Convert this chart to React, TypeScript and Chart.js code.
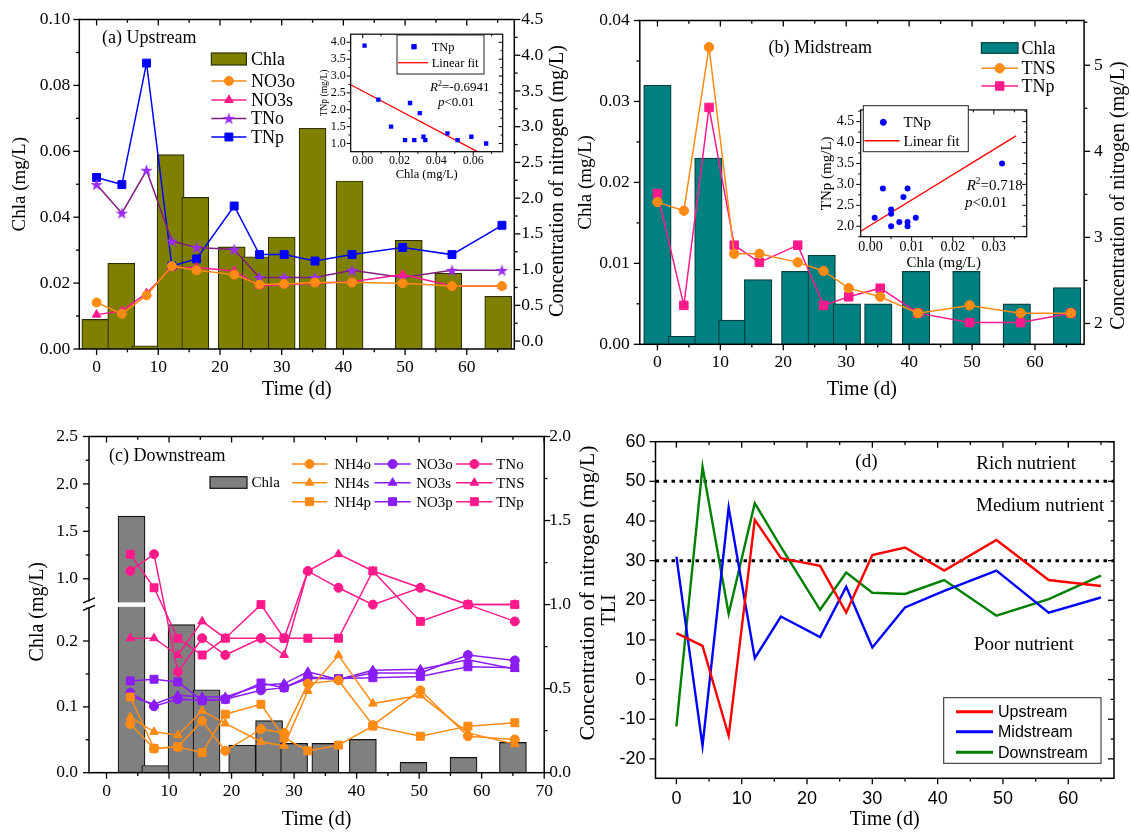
import React, { useEffect, useRef } from 'react';
import { Chart, registerables } from 'chart.js';
import { drawPoint } from 'chart.js/helpers';

Chart.register(...registerables);
Chart.defaults.color = '#000';

const SERIF = "'Liberation Serif', 'Times New Roman', serif";
const SANS = "'Liberation Sans', Arial, sans-serif";

// ---------------- (a) Upstream ----------------
const upLineDays = [0, 4.1, 8.1, 12.2, 16.2, 22.3, 26.4, 30.4, 35.4, 41.4, 49.6, 57.6, 65.7];
const upBarDays = [-0.2, 4, 7.9, 12, 16, 21.9, 25.8, 30, 35, 41, 50.6, 57, 65.1];
const upChla = [0.009, 0.026, 0.001, 0.059, 0.046, 0.031, 0.028, 0.034, 0.067, 0.051, 0.033, 0.023, 0.016];
const upNO3o = [0.54, 0.38, 0.64, 1.05, 0.99, 0.93, 0.79, 0.8, 0.82, 0.82, 0.81, 0.77, 0.77];
const upNO3s = [0.37, 0.42, 0.67, 1.03, 1.03, 0.98, 0.77, 0.79, 0.81, 0.83, 0.93, 0.77, 0.77];
const upTNo = [2.19, 1.79, 2.39, 1.4, 1.31, 1.28, 0.89, 0.89, 0.89, 0.99, 0.89, 0.99, 0.99];
const upTNp = [2.29, 2.19, 3.89, 1.05, 1.15, 1.89, 1.21, 1.21, 1.12, 1.21, 1.31, 1.21, 1.62];
const upInsetChla = [0.001, 0.0085, 0.0154, 0.023, 0.0257, 0.028, 0.031, 0.033, 0.034, 0.046, 0.0515, 0.059, 0.067];
const upInsetTNp = [3.9, 2.3, 1.5, 1.1, 2.2, 1.1, 1.9, 1.2, 1.1, 1.3, 1.1, 1.2, 1.0];
const upFitChla = [-0.0065, 0.0625];
const upFitTNp = [2.74, 0.75];

// ---------------- (b) Midstream ----------------
const midLineDays = [0, 4.2, 8.2, 12.2, 16.2, 22.3, 26.4, 30.4, 35.4, 41.4, 49.6, 57.7, 65.7];
const midBarDays = [0, 3.9, 8.1, 11.9, 16, 21.9, 26.1, 30.1, 35.1, 41.1, 49.1, 57.1, 65.1];
const midChla = [0.032, 0.001, 0.023, 0.003, 0.008, 0.009, 0.011, 0.005, 0.005, 0.009, 0.009, 0.005, 0.007];
const midTNS = [3.41, 3.31, 5.21, 2.81, 2.81, 2.71, 2.61, 2.41, 2.31, 2.12, 2.21, 2.12, 2.12];
const midTNp = [3.51, 2.21, 4.51, 2.91, 2.71, 2.91, 2.21, 2.31, 2.41, 2.12, 2.01, 2.01, 2.12];
const midInsetChla = [0.001, 0.003, 0.005, 0.005, 0.005, 0.007, 0.008, 0.009, 0.009, 0.009, 0.011, 0.032];
const midInsetTNp = [2.2, 2.9, 2.0, 2.4, 2.3, 2.1, 2.7, 2.9, 2.1, 2.0, 2.2, 3.5];
const midFitChla = [-0.0024, 0.0354];
const midFitTNp = [1.88, 4.16];

// ---------------- (c) Downstream ----------------
const downBarDays = [-0.2, 4, 7.8, 12, 16, 21.7, 26, 30, 35, 41, 49.1, 57.1, 65];
const downChla = [0.001, 1.66, 0.011, 0.225, 0.126, 0.042, 0.079, 0.0445, 0.0445, 0.0506, 0.0157, 0.0233, 0.046];
const downLineDays = [3.8, 7.6, 11.4, 15.3, 19.0, 24.7, 28.4, 32.2, 37.1, 42.6, 50.2, 57.8, 65.3];
const downNH4o = [0.29, 0.144, 0.154, 0.308, 0.13, 0.259, 0.237, 0.53, 0.55, 0.283, 0.49, 0.217, 0.198];
const downNH4s = [0.33, 0.243, 0.223, 0.368, 0.293, 0.184, 0.16, 0.486, 0.698, 0.411, 0.46, 0.237, 0.17];
const downNH4p = [0.45, 0.144, 0.154, 0.119, 0.348, 0.407, 0.21, 0.13, 0.164, 0.277, 0.217, 0.277, 0.297];
const downNO3o = [0.476, 0.395, 0.437, 0.43, 0.437, 0.49, 0.506, 0.57, 0.554, 0.593, 0.593, 0.7, 0.668];
const downNO3s = [0.455, 0.407, 0.46, 0.45, 0.45, 0.52, 0.53, 0.6, 0.554, 0.61, 0.615, 0.672, 0.617];
const downNO3p = [0.546, 0.556, 0.54, 0.43, 0.437, 0.534, 0.506, 0.56, 0.56, 0.565, 0.573, 0.63, 0.625];
const downTNo = [1.2, 1.3, 0.6, 0.8, 0.7, 0.8, 0.8, 1.2, 1.1, 1.0, 1.1, 1.0, 0.9];
const downTNS = [0.8, 0.8, 0.7, 0.9, 0.8, 0.8, 0.7, 1.2, 1.3, 1.2, 1.1, 1.0, 1.0];
const downTNp = [1.3, 1.1, 0.8, 0.7, 0.8, 1.0, 0.8, 0.8, 0.8, 1.2, 0.9, 1.0, 1.0];
const chlaBreakLow = 0.252;
const chlaBreakHigh = 0.75;

// ---------------- (d) TLI ----------------
const tliDays = [0, 4, 8, 12, 16, 22, 26, 30, 35, 41, 49, 57, 65];
const tliUp = [11.7, 8.5, -14.2, 40.3, 30.6, 28.7, 16.9, 31.4, 33.3, 27.5, 35.2, 25.1, 23.6];
const tliMid = [31.0, -16.7, 43.4, 5.4, 15.9, 10.7, 23.4, 8.1, 18.2, 22.4, 27.5, 16.9, 20.7];
const tliDown = [-11.8, 53.7, 16.6, 44.5, 33.5, 17.6, 27.0, 21.9, 21.6, 25.1, 16.1, 20.3, 26.2];
const tliBoundaryX = [-3.2, 67];
const tliRich = [50, 50];
const tliMedium = [30, 30];

// ---------------- tick labels ----------------
const xTicksMain = [0, 10, 20, 30, 40, 50, 60];
const xTicksDown = [0, 10, 20, 30, 40, 50, 60, 70];
const yTicksUpChla = [0, 0.02, 0.04, 0.06, 0.08, 0.1];
const yTicksUpN = [0, 0.5, 1, 1.5, 2, 2.5, 3, 3.5, 4, 4.5];
const yTicksMidChla = [0, 0.01, 0.02, 0.03, 0.04];
const yTicksMidN = [2, 3, 4, 5];
const yTicksDownHigh = [1, 1.5, 2, 2.5];
const yTicksDownLow = [0, 0.1, 0.2];
const yTicksDownN = [0, 0.5, 1, 1.5, 2];
const yTicksTLI = [-20, -10, 0, 10, 20, 30, 40, 50, 60];
const insetUpXTicks = [0, 0.02, 0.04, 0.06];
const insetUpYTicks = [1, 1.5, 2, 2.5, 3, 3.5, 4];
const insetMidXTicks = [0, 0.01, 0.02, 0.03];
const insetMidYTicks = [2, 2.5, 3, 3.5, 4, 4.5];

// ---------------- colours ----------------
const ORANGE = '#FF8A14';
const PINK = '#FF1A8C';
const BLUE = '#0000FF';
const VIOLET = '#8A1CF5';
const OLIVE = '#808000';
const TEAL = '#008080';
const GREY = '#808080';

const NITROGEN_TITLE = 'Concentration of nitrogen (mg/L)';

const pts = (xs: number[], ys: any[]) => xs.map((x, i) => ({ x, y: ys[i] }));

function makeStar(size: number, fill: string) {
  const c = document.createElement('canvas');
  c.width = size; c.height = size;
  const g = c.getContext('2d')!;
  g.fillStyle = fill;
  g.beginPath();
  for (let i = 0; i < 10; i++) {
    const r = i % 2 ? size * 0.2 : size * 0.5;
    const a = -Math.PI / 2 + (i * Math.PI) / 5;
    g.lineTo(size / 2 + r * Math.cos(a), size / 2 + 0.5 + r * Math.sin(a));
  }
  g.closePath();
  g.fill();
  return c;
}

function mkScale(p: any) {
  const s: any = {
    type: 'linear',
    position: p.position,
    min: p.min,
    max: p.max,
    offset: false,
    grid: { display: false, drawTicks: false },
    border: { display: false },
    ticks: {
      font: { family: p.family || SERIF, size: p.size || 17.5 },
      color: '#000',
      padding: p.pad ?? 8,
      autoSkip: false,
      maxRotation: 0,
      minRotation: 0,
      callback: (v: number) => p.fmt(v),
    },
    afterBuildTicks: (sc: any) => {
      sc.ticks = p.ticks.map((v: number) => ({ value: v }));
    },
    afterFit: (sc: any) => {
      if (p.position === 'bottom' || p.position === 'top') sc.height = p.fit;
      else sc.width = p.fit;
    },
    title: p.title
      ? { display: true, text: p.title, color: '#000', font: { family: p.titleFamily || SERIF, size: p.titleSize || 20 }, padding: p.titlePad }
      : { display: false },
  };
  if (p.stack) { s.stack = p.stack; s.stackWeight = p.weight; }
  return s;
}

function framePlugin(o: any) {
  return {
    id: 'frame',
    afterDraw(chart: any) {
      const { ctx, chartArea: ca } = chart;
      ctx.save();
      ctx.strokeStyle = '#000';
      ctx.lineWidth = o.lw || 1.5;
      ctx.strokeRect(ca.left, ca.top, ca.right - ca.left, ca.bottom - ca.top);
      ctx.lineWidth = o.tw || 1.3;
      const L = o.len || 6;
      for (const a of o.sides) {
        const s = chart.scales[a.id];
        const major: number[] = s.ticks.map((t: any) => t.value);
        const vals: [number, number][] = major.map((v) => [v, L]);
        if (a.minor && major.length > 1) {
          const step = major[1] - major[0];
          for (let i = -1; i < major.length; i++) {
            const base = i < 0 ? major[0] - step : major[i];
            for (let k = 1; k <= a.minor; k++) vals.push([base + (step * k) / (a.minor + 1), L * 0.55]);
          }
        }
        for (const [v, len] of vals) {
          if (v < s.min - 1e-9 || v > s.max + 1e-9) continue;
          const p = s.getPixelForValue(v);
          const d = a.out ? len : -len;
          ctx.beginPath();
          if (a.side === 'bottom') { ctx.moveTo(p, ca.bottom); ctx.lineTo(p, ca.bottom + d); }
          else if (a.side === 'top') { ctx.moveTo(p, ca.top); ctx.lineTo(p, ca.top - d); }
          else if (a.side === 'left') { ctx.moveTo(ca.left, p); ctx.lineTo(ca.left - d, p); }
          else { ctx.moveTo(ca.right, p); ctx.lineTo(ca.right + d, p); }
          ctx.stroke();
        }
      }
      if (o.breakScale) {
        const j = chart.scales[o.breakScale].top;
        const X = ca.left;
        ctx.fillStyle = '#fff';
        ctx.fillRect(X - 3, j - 3, 6, 6);
        ctx.lineWidth = 1.4;
        ctx.beginPath();
        ctx.moveTo(X - 6, j - 1.5); ctx.lineTo(X + 6, j - 6.5);
        ctx.moveTo(X - 6, j + 6); ctx.lineTo(X + 6, j + 1);
        ctx.stroke();
      }
      ctx.restore();
    },
  };
}

function legendPlugin(o: any) {
  return {
    id: 'legendX',
    afterDraw(chart: any) {
      const ctx = chart.ctx;
      ctx.save();
      if (o.box) {
        ctx.fillStyle = '#fff';
        ctx.fillRect(o.box.x, o.box.y, o.box.w, o.box.h);
        ctx.strokeStyle = '#222';
        ctx.lineWidth = 1;
        ctx.strokeRect(o.box.x, o.box.y, o.box.w, o.box.h);
      }
      for (const it of o.items) {
        const ds = chart.data.datasets[it.ds];
        if (it.kind === 'box') {
          ctx.fillStyle = ds.backgroundColor;
          ctx.fillRect(it.x, it.y - it.h / 2, it.w, it.h);
          ctx.strokeStyle = ds.borderColor;
          ctx.lineWidth = 1.2;
          ctx.strokeRect(it.x, it.y - it.h / 2, it.w, it.h);
        } else {
          if (it.kind !== 'marker') {
            ctx.strokeStyle = ds.borderColor;
            ctx.lineWidth = it.lw || ds.borderWidth || 1.5;
            ctx.beginPath();
            ctx.moveTo(it.x, it.y);
            ctx.lineTo(it.x + it.w, it.y);
            ctx.stroke();
          }
          if (ds.pointRadius > 0) {
            ctx.fillStyle = ds.pointBackgroundColor || ds.backgroundColor;
            ctx.strokeStyle = ds.pointBorderColor || ds.borderColor;
            ctx.lineWidth = 1;
            const cx = it.kind === 'marker' ? it.x : it.x + it.w / 2;
            drawPoint(ctx, { pointStyle: ds.pointStyle, radius: ds.pointRadius, borderWidth: 1, rotation: 0 } as any, cx, it.y);
          }
        }
        ctx.fillStyle = '#000';
        ctx.font = `${o.size}px ${o.family || SERIF}`;
        ctx.textBaseline = 'middle';
        ctx.textAlign = 'left';
        ctx.fillText(ds.label, it.tx, it.y + 1);
      }
      ctx.restore();
    },
  };
}

function textPlugin(items: any[]) {
  return {
    id: 'texts',
    afterDraw(chart: any) {
      const ctx = chart.ctx;
      for (const t of items) {
        ctx.save();
        ctx.translate(t.x, t.y);
        if (t.rot) ctx.rotate(t.rot);
        ctx.fillStyle = '#000';
        ctx.textBaseline = 'middle';
        ctx.textAlign = 'left';
        const fam = t.family || SERIF;
        const font = (p: any) => `${p.i ? 'italic ' : ''}${p.sup ? t.size * 0.62 : t.size}px ${fam}`;
        let total = 0;
        for (const p of t.parts) { ctx.font = font(p); total += ctx.measureText(p.t).width; }
        let x = t.align === 'center' ? -total / 2 : 0;
        for (const p of t.parts) {
          ctx.font = font(p);
          ctx.fillText(p.t, x, p.sup ? -t.size * 0.32 : 0);
          x += ctx.measureText(p.t).width;
        }
        ctx.restore();
      }
    },
  };
}

const common: any = {
  animation: false,
  responsive: false,
  maintainAspectRatio: false,
  devicePixelRatio: 1,
  events: [],
  plugins: { legend: { display: false }, tooltip: { enabled: false } },
};

function lineDs(label: string, xs: number[], ys: number[], color: string, style: any, r: number, extra: any = {}) {
  return {
    type: 'line', label, data: pts(xs, ys),
    borderColor: color, backgroundColor: color,
    pointBackgroundColor: color, pointBorderColor: color,
    pointStyle: style, pointRadius: r, pointBorderWidth: 1,
    borderWidth: 1.5, yAxisID: 'y1', order: 1, ...extra,
  };
}

const mainSides = [
  { id: 'x', side: 'bottom', out: true, minor: 1 },
  { id: 'x', side: 'top', out: false, minor: 1 },
  { id: 'y', side: 'left', out: true, minor: 1 },
  { id: 'y1', side: 'right', out: true, minor: 1 },
];
const insetSides = [
  { id: 'x', side: 'bottom', out: true, minor: 1 },
  { id: 'x', side: 'top', out: false, minor: 1 },
  { id: 'y', side: 'left', out: true, minor: 1 },
  { id: 'y', side: 'right', out: false, minor: 1 },
];

const f2 = (v: number) => v.toFixed(2);
const f1 = (v: number) => v.toFixed(1);
const f0 = (v: number) => String(Math.round(v));
const UP = -Math.PI / 2;

function buildA() {
  const star = makeStar(13, '#9B2CF2');
  return {
    type: 'bar',
    data: {
      datasets: [
        { type: 'bar', label: 'Chla', data: pts(upBarDays, upChla), yAxisID: 'y', backgroundColor: OLIVE, borderColor: '#2e2e00', borderWidth: 1.2, barThickness: 27, grouped: false, order: 2 },
        lineDs('NO3o', upLineDays, upNO3o, ORANGE, 'circle', 4.5),
        lineDs('NO3s', upLineDays, upNO3s, PINK, 'triangle', 5),
        lineDs('TNo', upLineDays, upTNo, '#7E1E80', star, 6),
        lineDs('TNp', upLineDays, upTNp, BLUE, 'rect', 5.6),
      ],
    },
    options: {
      ...common,
      layout: { padding: { top: 16.7, left: 0, right: 0, bottom: 0 } },
      scales: {
        x: mkScale({ position: 'bottom', min: -2.8, max: 67.7, ticks: xTicksMain, fmt: f0, fit: 61, pad: 8, title: 'Time (d)', titlePad: { top: 0, bottom: 8 }, titleSize: 20 }),
        y: mkScale({ position: 'left', min: 0, max: 0.1, ticks: yTicksUpChla, fmt: f2, fit: 79.3, pad: 9, title: 'Chla (mg/L)', titlePad: { top: 9, bottom: 0 }, titleSize: 19 }),
        y1: mkScale({ position: 'right', min: -0.111, max: 4.5, ticks: yTicksUpN, fmt: f1, fit: 55.7, pad: 7 }),
      },
    },
    plugins: [
      framePlugin({ sides: mainSides }),
      legendPlugin({
        size: 18,
        items: [
          { ds: 0, kind: 'box', x: 211.4, y: 59, w: 35, h: 12, tx: 251 },
          { ds: 1, kind: 'line', x: 211.4, y: 81, w: 35, tx: 251 },
          { ds: 2, kind: 'line', x: 211.4, y: 100, w: 35, tx: 251 },
          { ds: 3, kind: 'line', x: 211.4, y: 118.5, w: 35, tx: 251 },
          { ds: 4, kind: 'line', x: 211.4, y: 137, w: 35, tx: 251 },
        ],
      }),
      textPlugin([
        { x: 102, y: 38, size: 18, parts: [{ t: '(a) Upstream' }] },
        { x: 557.3, y: 181, size: 20.3, rot: UP, align: 'center', parts: [{ t: NITROGEN_TITLE }] },
      ]),
    ],
  };
}

function buildInsetA() {
  return {
    type: 'scatter',
    data: {
      datasets: [
        { type: 'scatter', label: 'TNp', data: pts(upInsetChla, upInsetTNp), pointStyle: 'rect', pointRadius: 3.1, backgroundColor: BLUE, borderColor: BLUE, pointBackgroundColor: BLUE, pointBorderColor: BLUE, pointBorderWidth: 0 },
        { type: 'line', label: 'Linear fit', data: pts(upFitChla, upFitTNp), borderColor: '#FF0000', borderWidth: 1.3, pointRadius: 0 },
      ],
    },
    options: {
      ...common,
      layout: { padding: { top: 9.7, right: 4.3, left: 0, bottom: 0 } },
      scales: {
        x: mkScale({ position: 'bottom', min: -0.0065, max: 0.076, ticks: insetUpXTicks, fmt: f2, fit: 32.3, pad: 2, size: 12, title: 'Chla (mg/L)', titleSize: 12.5, titlePad: { top: 0, bottom: 1.5 } }),
        y: mkScale({ position: 'left', min: 0.756, max: 4.24, ticks: insetUpYTicks, fmt: f1, fit: 35.7, pad: 5, size: 12, title: 'TNp (mg/L)', titleSize: 9.5, titlePad: { top: 4, bottom: 0 } }),
      },
    },
    plugins: [
      framePlugin({ sides: insetSides, len: 4, lw: 1.2, tw: 1 }),
      legendPlugin({
        size: 12.5,
        box: { x: 82, y: 13, w: 87, h: 39 },
        items: [
          { ds: 0, kind: 'marker', x: 99, y: 24.7, tx: 116.7 },
          { ds: 1, kind: 'line', x: 83, y: 40.7, w: 30, tx: 116.7 },
        ],
      }),
      textPlugin([
        { x: 115, y: 66, size: 13, parts: [{ t: 'R', i: true }, { t: '2', sup: true }, { t: '=-0.6941' }] },
        { x: 123, y: 81, size: 13, parts: [{ t: 'p', i: true }, { t: '<0.01' }] },
      ]),
    ],
  };
}

function buildB() {
  return {
    type: 'bar',
    data: {
      datasets: [
        { type: 'bar', label: 'Chla', data: pts(midBarDays, midChla), yAxisID: 'y', backgroundColor: TEAL, borderColor: '#023c3c', borderWidth: 1.2, barThickness: 27.5, grouped: false, order: 2 },
        lineDs('TNS', midLineDays, midTNS, ORANGE, 'circle', 4.7),
        lineDs('TNp', midLineDays, midTNp, PINK, 'rect', 6),
      ],
    },
    options: {
      ...common,
      layout: { padding: { top: 17.3, left: 0, right: 0, bottom: 0 } },
      scales: {
        x: mkScale({ position: 'bottom', min: -2.8, max: 67.8, ticks: xTicksMain, fmt: f0, fit: 65.7, pad: 8, title: 'Time (d)', titlePad: { top: 0, bottom: 8 }, titleSize: 20 }),
        y: mkScale({ position: 'left', min: 0, max: 0.04, ticks: yTicksMidChla, fmt: f2, fit: 74.8, pad: 10, title: 'Chla (mg/L)', titlePad: { top: 9.6, bottom: 0 }, titleSize: 19 }),
        y1: mkScale({ position: 'right', min: 1.758, max: 5.52, ticks: yTicksMidN, fmt: f0, fit: 46.9, pad: 10 }),
      },
    },
    plugins: [
      framePlugin({ sides: mainSides }),
      legendPlugin({
        size: 18,
        items: [
          { ds: 0, kind: 'box', x: 416.4, y: 48, w: 36.6, h: 10.6, tx: 456.5 },
          { ds: 1, kind: 'line', x: 416.4, y: 68.3, w: 36.6, tx: 456.5 },
          { ds: 2, kind: 'line', x: 416.4, y: 86, w: 36.6, tx: 456.5 },
        ],
      }),
      textPlugin([
        { x: 203.6, y: 48.3, size: 18, parts: [{ t: '(b) Midstream' }] },
        { x: 553.3, y: 195.5, size: 20, rot: UP, align: 'center', parts: [{ t: NITROGEN_TITLE }] },
      ]),
    ],
  };
}

function buildInsetB() {
  return {
    type: 'scatter',
    data: {
      datasets: [
        { type: 'scatter', label: 'TNp', data: pts(midInsetChla, midInsetTNp), pointStyle: 'circle', pointRadius: 3, backgroundColor: BLUE, borderColor: BLUE, pointBackgroundColor: BLUE, pointBorderColor: BLUE, pointBorderWidth: 0 },
        { type: 'line', label: 'Linear fit', data: pts(midFitChla, midFitTNp), borderColor: '#FF0000', borderWidth: 1.4, pointRadius: 0 },
      ],
    },
    options: {
      ...common,
      layout: { padding: { top: 8.3, right: 8.3, left: 0, bottom: 0 } },
      scales: {
        x: mkScale({ position: 'bottom', min: -0.0024, max: 0.038, ticks: insetMidXTicks, fmt: f2, fit: 38.3, pad: 2, size: 14, title: 'Chla (mg/L)', titleSize: 15, titlePad: { top: 0, bottom: 3 } }),
        y: mkScale({ position: 'left', min: 1.75, max: 4.78, ticks: insetMidYTicks, fmt: f1, fit: 45.7, pad: 6.5, size: 14, title: 'TNp (mg/L)', titleSize: 15, titlePad: { top: 3.5, bottom: 0 } }),
      },
    },
    plugins: [
      framePlugin({ sides: insetSides, len: 4.5, lw: 1.2, tw: 1 }),
      legendPlugin({
        size: 15,
        box: { x: 48.3, y: 10.7, w: 105, h: 46 },
        items: [
          { ds: 0, kind: 'marker', x: 68.3, y: 27.3, tx: 88.5 },
          { ds: 1, kind: 'line', x: 49.5, y: 45.7, w: 35, tx: 88.5 },
        ],
      }),
      textPlugin([
        { x: 151.7, y: 91, size: 15, parts: [{ t: 'R', i: true }, { t: '2', sup: true }, { t: '=0.718' }] },
        { x: 150, y: 108.3, size: 15, parts: [{ t: 'p', i: true }, { t: '<0.01' }] },
      ]),
    ],
  };
}

function buildC() {
  const lowData = downChla.map((v, i) => ({ x: downBarDays[i], y: [0, Math.min(v, chlaBreakLow)] }));
  const highData = downChla
    .map((v, i) => ({ x: downBarDays[i], y: [chlaBreakHigh, v] }))
    .filter((_, i) => downChla[i] > chlaBreakHigh);
  const ld = (label: string, ys: number[], color: string, style: string, r: number) =>
    lineDs(label, downLineDays, ys, color, style, r);
  return {
    type: 'bar',
    data: {
      datasets: [
        { type: 'bar', label: 'Chla', data: lowData, yAxisID: 'yBot', backgroundColor: GREY, borderColor: '#111', borderWidth: 1.2, barThickness: 27, grouped: false, order: 2,
          borderSkipped: (c: any) => (downChla[c.dataIndex] > chlaBreakLow ? 'end' : 'start') },
        { type: 'bar', label: 'Chla', data: highData, yAxisID: 'yTop', backgroundColor: GREY, borderColor: '#111', borderWidth: 1.2, barThickness: 27, grouped: false, order: 2, borderSkipped: 'start' },
        ld('NH4o', downNH4o, ORANGE, 'circle', 4.5),
        ld('NH4s', downNH4s, ORANGE, 'triangle', 5),
        ld('NH4p', downNH4p, ORANGE, 'rect', 5.6),
        ld('NO3o', downNO3o, VIOLET, 'circle', 4.5),
        ld('NO3s', downNO3s, VIOLET, 'triangle', 5),
        ld('NO3p', downNO3p, VIOLET, 'rect', 5.6),
        ld('TNo', downTNo, PINK, 'circle', 4.5),
        ld('TNS', downTNS, PINK, 'triangle', 5),
        ld('TNp', downTNp, PINK, 'rect', 5.6),
      ],
    },
    options: {
      ...common,
      layout: { padding: { top: 20.7, left: 0, right: 0, bottom: 0 } },
      scales: {
        x: mkScale({ position: 'bottom', min: -2.8, max: 70, ticks: xTicksDown, fmt: f0, fit: 59.3, pad: 8, title: 'Time (d)', titlePad: { top: 0, bottom: 0 }, titleSize: 20 }),
        yBot: mkScale({ position: 'left', min: 0, max: 0.2556, ticks: yTicksDownLow, fmt: f1, fit: 89, pad: 11, stack: 'chla', weight: 168.7 }),
        yTop: mkScale({ position: 'left', min: 0.7295, max: 2.5, ticks: yTicksDownHigh, fmt: f1, fit: 89, pad: 11, stack: 'chla', weight: 168.3 }),
        y1: mkScale({ position: 'right', min: 0, max: 2, ticks: yTicksDownN, fmt: f1, fit: 60.8, pad: 5 }),
      },
    },
    plugins: [
      framePlugin({
        sides: [
          { id: 'x', side: 'bottom', out: true, minor: 1 },
          { id: 'x', side: 'top', out: false, minor: 1 },
          { id: 'yTop', side: 'left', out: true, minor: 1 },
          { id: 'yBot', side: 'left', out: true, minor: 1 },
          { id: 'y1', side: 'right', out: true, minor: 1 },
        ],
        breakScale: 'yBot',
      }),
      legendPlugin({
        size: 15,
        items: [
          { ds: 0, kind: 'box', x: 210, y: 67.5, w: 37, h: 11.6, tx: 251.5 },
          { ds: 2, kind: 'line', x: 291.9, y: 49, w: 35.3, tx: 334.4 },
          { ds: 3, kind: 'line', x: 291.9, y: 67.7, w: 35.3, tx: 334.4 },
          { ds: 4, kind: 'line', x: 291.9, y: 86.7, w: 35.3, tx: 334.4 },
          { ds: 5, kind: 'line', x: 374.4, y: 49, w: 36.4, tx: 416.2 },
          { ds: 6, kind: 'line', x: 374.4, y: 67.7, w: 36.4, tx: 416.2 },
          { ds: 7, kind: 'line', x: 374.4, y: 86.7, w: 36.4, tx: 416.2 },
          { ds: 8, kind: 'line', x: 456.2, y: 49, w: 36.3, tx: 496.2 },
          { ds: 9, kind: 'line', x: 456.2, y: 67.7, w: 36.3, tx: 496.2 },
          { ds: 10, kind: 'line', x: 456.2, y: 86.7, w: 36.3, tx: 496.2 },
        ],
      }),
      textPlugin([
        { x: 109, y: 41, size: 18, parts: [{ t: '(c) Downstream' }] },
        { x: 38, y: 196.7, size: 20, rot: UP, align: 'center', parts: [{ t: 'Chla (mg/L)' }] },
        { x: 588.3, y: 178, size: 22, rot: UP, align: 'center', parts: [{ t: NITROGEN_TITLE }] },
      ]),
    ],
  };
}

function buildD() {
  const tl = (label: string, ys: number[], color: string) => ({
    type: 'line', label, data: pts(tliDays, ys), borderColor: color, backgroundColor: color, borderWidth: 2.4, pointRadius: 0, yAxisID: 'y', order: 1,
  });
  const boundary = (label: string, ys: number[]) => ({
    type: 'line', label, data: pts(tliBoundaryX, ys), borderColor: '#000', borderWidth: 3, borderDash: [3.5, 4.5], pointRadius: 0, yAxisID: 'y', order: 2,
  });
  return {
    type: 'line',
    data: {
      datasets: [
        tl('Upstream', tliUp, '#FF0000'),
        tl('Midstream', tliMid, '#0000FF'),
        tl('Downstream', tliDown, '#008000'),
        boundary('Rich nutrient boundary', tliRich),
        boundary('Medium nutrient boundary', tliMedium),
      ],
    },
    options: {
      ...common,
      layout: { padding: { top: 26.7, right: 17, left: 0, bottom: 0 } },
      scales: {
        x: mkScale({ position: 'bottom', min: -3.2, max: 67, ticks: xTicksMain, fmt: f0, fit: 53.7, pad: 10, family: SANS, size: 18, title: 'Time (d)', titlePad: { top: 0, bottom: 0 }, titleSize: 20 }),
        y: mkScale({ position: 'left', min: -24.9, max: 60, ticks: yTicksTLI, fmt: f0, fit: 60.5, pad: 10, family: SANS, size: 18, title: 'TLI', titlePad: { top: 3, bottom: 0 }, titleSize: 20 }),
      },
    },
    plugins: [
      framePlugin({
        sides: [
          { id: 'x', side: 'bottom', out: true, minor: 1 },
          { id: 'x', side: 'top', out: false, minor: 1 },
          { id: 'y', side: 'left', out: true, minor: 1 },
          { id: 'y', side: 'right', out: false, minor: 1 },
        ],
      }),
      legendPlugin({
        size: 16,
        family: SANS,
        box: { x: 348.7, y: 282.7, w: 157.3, h: 65.6 },
        items: [
          { ds: 0, kind: 'line', x: 361, y: 296.7, w: 37, tx: 403, lw: 3 },
          { ds: 1, kind: 'line', x: 361, y: 316.7, w: 37, tx: 403, lw: 3 },
          { ds: 2, kind: 'line', x: 361, y: 337.3, w: 37, tx: 403, lw: 3 },
        ],
      }),
      textPlugin([
        { x: 271.4, y: 46.7, size: 19, align: 'center', parts: [{ t: '(d)' }] },
        { x: 381.3, y: 49, size: 19, parts: [{ t: 'Rich nutrient' }] },
        { x: 381, y: 91, size: 19, parts: [{ t: 'Medium nutrient' }] },
        { x: 379, y: 230, size: 19, parts: [{ t: 'Poor nutrient' }] },
      ]),
    ],
  };
}

function ChartBox({ left, top, width, height, build, z }: any) {
  const ref = useRef<HTMLCanvasElement>(null);
  useEffect(() => {
    const chart = new Chart(ref.current as HTMLCanvasElement, build());
    return () => chart.destroy();
  }, []);
  return (
    <canvas
      ref={ref}
      width={width}
      height={height}
      style={{ position: 'absolute', left, top, width, height, zIndex: z || 1 }}
    />
  );
}

export default function App() {
  return (
    <div style={{ position: 'absolute', left: 0, top: 0, width: 1131, height: 832, background: '#fff', overflow: 'hidden' }}>
      <ChartBox left={0} top={0} width={570} height={410} build={buildA} />
      <ChartBox left={315} top={22} width={192} height={162} build={buildInsetA} z={3} />
      <ChartBox left={565} top={0} width={566} height={410} build={buildB} z={2} />
      <ChartBox left={815} top={95} width={220} height={180} build={buildInsetB} z={3} />
      <ChartBox left={0} top={415} width={605} height={417} build={buildC} />
      <ChartBox left={595} top={415} width={536} height={417} build={buildD} z={2} />
    </div>
  );
}
